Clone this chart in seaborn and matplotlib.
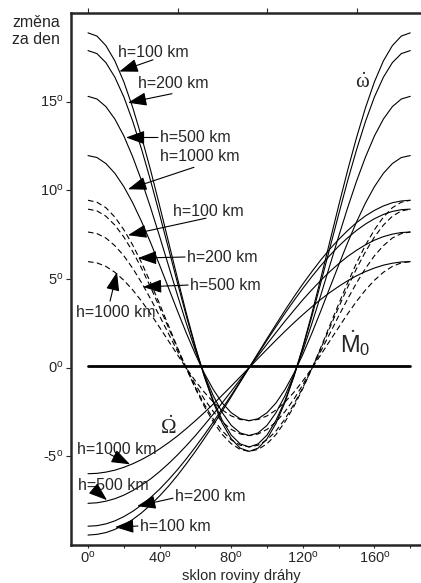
import numpy as np
import pandas as pd
import matplotlib
matplotlib.use("Agg")
import matplotlib.pyplot as plt
import seaborn as sns

# inclination of the orbit plane (deg)
incl = list(range(0, 181, 5))

# node rate (Omega dot), deg/day
node_100 = [-9.44, -9.40, -9.30, -9.12, -8.87, -8.56, -8.18, -7.73, -7.23, -6.68, -6.07, -5.41, -4.72, -3.99, -3.23, -2.44, -1.64, -0.82, 0.0,
            0.82, 1.64, 2.44, 3.23, 3.99, 4.72, 5.41, 6.07, 6.68, 7.23, 7.73, 8.18, 8.56, 8.87, 9.12, 9.30, 9.40, 9.44]
node_200 = [-8.94, -8.91, -8.81, -8.64, -8.40, -8.10, -7.74, -7.32, -6.85, -6.32, -5.75, -5.13, -4.47, -3.78, -3.06, -2.31, -1.55, -0.78, 0.0,
            0.78, 1.55, 2.31, 3.06, 3.78, 4.47, 5.13, 5.75, 6.32, 6.85, 7.32, 7.74, 8.10, 8.40, 8.64, 8.81, 8.91, 8.94]
node_500 = [-7.65, -7.62, -7.53, -7.39, -7.19, -6.93, -6.62, -6.27, -5.86, -5.41, -4.92, -4.39, -3.83, -3.23, -2.62, -1.98, -1.33, -0.67, 0.0,
            0.67, 1.33, 1.98, 2.62, 3.23, 3.83, 4.39, 4.92, 5.41, 5.86, 6.27, 6.62, 6.93, 7.19, 7.39, 7.53, 7.62, 7.65]
node_1000 = [-5.98, -5.96, -5.89, -5.78, -5.62, -5.42, -5.18, -4.90, -4.58, -4.23, -3.85, -3.43, -2.99, -2.53, -2.05, -1.55, -1.04, -0.52, 0.0,
             0.52, 1.04, 1.55, 2.05, 2.53, 2.99, 3.43, 3.85, 4.23, 4.58, 4.90, 5.18, 5.42, 5.62, 5.78, 5.89, 5.96, 5.98]

# perigee rate (omega dot)
peri_100 = [18.88, 18.70, 18.16, 17.30, 16.12, 14.66, 12.98, 11.12, 9.13, 7.08, 5.03, 3.04, 1.18, -0.51, -1.96, -3.14, -4.01, -4.54, -4.72,
            -4.54, -4.01, -3.14, -1.96, -0.51, 1.18, 3.04, 5.03, 7.08, 9.13, 11.12, 12.98, 14.66, 16.12, 17.30, 18.16, 18.70, 18.88]
peri_200 = [17.88, 17.71, 17.20, 16.38, 15.27, 13.89, 12.29, 10.53, 8.64, 6.71, 4.77, 2.88, 1.12, -0.48, -1.86, -2.97, -3.80, -4.30, -4.47,
            -4.30, -3.80, -2.97, -1.86, -0.48, 1.12, 2.88, 4.77, 6.71, 8.64, 10.53, 12.29, 13.89, 15.27, 16.38, 17.20, 17.71, 17.88]
peri_500 = [15.30, 15.15, 14.72, 14.02, 13.07, 11.88, 10.52, 9.01, 7.40, 5.74, 4.08, 2.47, 0.96, -0.41, -1.59, -2.54, -3.25, -3.68, -3.83,
            -3.68, -3.25, -2.54, -1.59, -0.41, 0.96, 2.47, 4.08, 5.74, 7.40, 9.01, 10.52, 11.88, 13.07, 14.02, 14.72, 15.15, 15.30]
peri_1000 = [11.96, 11.85, 11.51, 10.96, 10.21, 9.29, 8.22, 7.04, 5.78, 4.49, 3.19, 1.93, 0.75, -0.32, -1.24, -1.99, -2.54, -2.88, -2.99,
             -2.88, -2.54, -1.99, -1.24, -0.32, 0.75, 1.93, 3.19, 4.49, 5.78, 7.04, 8.22, 9.29, 10.21, 10.96, 11.51, 11.85, 11.96]

# mean anomaly rate (M0 dot), dashed
mean_100 = [9.44, 9.33, 9.02, 8.49, 7.78, 6.91, 5.90, 4.78, 3.59, 2.36, 1.13, -0.06, -1.18, -2.19, -3.06, -3.77, -4.29, -4.61, -4.72,
            -4.61, -4.29, -3.77, -3.06, -2.19, -1.18, -0.06, 1.13, 2.36, 3.59, 4.78, 5.90, 6.91, 7.78, 8.49, 9.02, 9.33, 9.44]
mean_200 = [8.94, 8.84, 8.54, 8.04, 7.37, 6.54, 5.59, 4.53, 3.40, 2.24, 1.07, -0.06, -1.12, -2.07, -2.90, -3.57, -4.07, -4.37, -4.47,
            -4.37, -4.07, -3.57, -2.90, -2.07, -1.12, -0.06, 1.07, 2.24, 3.40, 4.53, 5.59, 6.54, 7.37, 8.04, 8.54, 8.84, 8.94]
mean_500 = [7.65, 7.56, 7.31, 6.88, 6.31, 5.60, 4.78, 3.87, 2.91, 1.91, 0.92, -0.05, -0.96, -1.78, -2.48, -3.06, -3.48, -3.74, -3.83,
            -3.74, -3.48, -3.06, -2.48, -1.78, -0.96, -0.05, 0.92, 1.91, 2.91, 3.87, 4.78, 5.60, 6.31, 6.88, 7.31, 7.56, 7.65]
mean_1000 = [5.98, 5.91, 5.71, 5.38, 4.93, 4.38, 3.74, 3.03, 2.27, 1.50, 0.72, -0.04, -0.75, -1.39, -1.94, -2.39, -2.72, -2.92, -2.99,
             -2.92, -2.72, -2.39, -1.94, -1.39, -0.75, -0.04, 0.72, 1.50, 2.27, 3.03, 3.74, 4.38, 4.93, 5.38, 5.71, 5.91, 5.98]

# other elements stay at ~0
flat = [0.08] * len(incl)

ytick_vals = [-5, 0, 5, 10, 15]

sns.set_style("ticks")
plt.rcParams['font.family'] = ['Liberation Sans', 'DejaVu Sans']
plt.rcParams['mathtext.fontset'] = 'custom'
plt.rcParams['mathtext.rm'] = 'Liberation Serif'
plt.rcParams['mathtext.it'] = 'Liberation Serif:italic'
plt.rcParams['mathtext.sf'] = 'Liberation Sans'
plt.rcParams['mathtext.bf'] = 'Liberation Serif:bold'

fig = plt.figure(figsize=(4.21, 5.83), dpi=100)
ax = fig.add_axes([71 / 421, 38 / 583, 350 / 421, 532 / 583])

for vals in [peri_100, peri_200, peri_500, peri_1000, node_100, node_200, node_500, node_1000]:
    sns.lineplot(x=incl, y=vals, ax=ax, color='black', lw=0.8)
for vals in [mean_100, mean_200, mean_500, mean_1000]:
    sns.lineplot(x=incl, y=vals, ax=ax, color='black', lw=0.8, ls=(0, (5, 3)))
sns.lineplot(x=incl, y=flat, ax=ax, color='black', lw=2.0)

ax.set_xlim(-9.5, 186)
ax.set_ylim(-10, 20)

deg = lambda v: '%s$^{\\mathsf{o}}$' % v
ax.set_xticks(range(0, 181, 20))
ax.set_xticklabels([deg(v) if v % 40 == 0 and v < 180 else '' for v in range(0, 181, 20)])
ax.set_yticks(ytick_vals)
ax.set_yticklabels([deg(v) for v in ytick_vals])
ax.tick_params(axis='x', length=2.5, width=0.8, labelsize=10.5, pad=2)
ax.tick_params(axis='y', length=3.5, width=0.8, labelsize=10.5, pad=2)

top = ax.secondary_xaxis('top')
top.set_xticks([0, 50, 100, 150])
top.set_xticklabels([])
top.tick_params(length=3.5, width=0.8)
top.spines['top'].set_linewidth(1.8)

for s in ['left', 'bottom']:
    ax.spines[s].set_linewidth(1.8)
ax.spines['right'].set_visible(False)
ax.spines['top'].set_visible(False)
ax.set_xlabel('')
ax.set_ylabel('')

fig.text(36 / 421, 1 - 31 / 583, 'změna\nza den', ha='center', va='center',
         fontsize=11.5, linespacing=1.2)
fig.text(241 / 421, 1 - 576 / 583, 'sklon roviny dráhy', ha='center', va='center',
         fontsize=10.5)

arrow = dict(arrowstyle='-|>,head_length=1.0,head_width=0.36', color='black',
             lw=0.8, shrinkA=0, shrinkB=0, mutation_scale=11.5)

# (label, text x, text y, ha, tip x, tip y, tail x, tail y)
notes = [
    ('h=100 km', 16.8, 17.75, 'left', 17.5, 16.7, 36.3, 17.36),
    ('h=200 km', 27.9, 16.0, 'left', 22.3, 14.94, 46.9, 15.45),
    ('h=500 km', 40.2, 12.98, 'left', 21.2, 12.98, 39.1, 12.98),
    ('h=1000 km', 40.2, 11.9, 'left', 22.3, 10.06, 59.2, 11.3),
    ('h=100 km', 47.5, 8.82, 'left', 22.3, 7.47, 65.9, 8.43),
    ('h=200 km', 55.3, 6.24, 'left', 27.9, 6.18, 54.2, 6.24),
    ('h=500 km', 57.0, 4.66, 'left', 30.7, 4.55, 55.9, 4.66),
    ('h=1000 km', 15.5, 3.09, 'center', 16.2, 5.39, 12.3, 3.75),
    ('h=1000 km', -6.1, -4.61, 'left', 23.5, -5.45, 12.3, -4.89),
    ('h=500 km', -5.6, -6.63, 'left', 10.6, -7.47, 3.4, -6.85),
    ('h=200 km', 48.6, -7.25, 'left', 27.4, -7.81, 47.5, -7.36),
    ('h=100 km', 29.1, -8.93, 'left', 15.1, -8.99, 27.9, -8.93),
]
for lab, tx, ty, ha, hx, hy, sx, sy in notes:
    ax.text(tx, ty, lab, ha=ha, va='center', fontsize=11.5)
    ax.annotate('', xy=(hx, hy), xytext=(sx, sy), arrowprops=arrow)

# element symbols
ax.text(153.1, 16.1, r'$\dot{\mathrm{\omega}}$', fontsize=15, ha='center', va='center')
ax.text(44.7, -3.35, r'$\dot{\Omega}$', fontsize=15, ha='center', va='center')
ax.text(149.5, 1.35, r'$\dot{\mathsf{M}}_{\mathsf{0}}$', fontsize=17, ha='center', va='center')

fig.savefig('out.png', dpi=100)
